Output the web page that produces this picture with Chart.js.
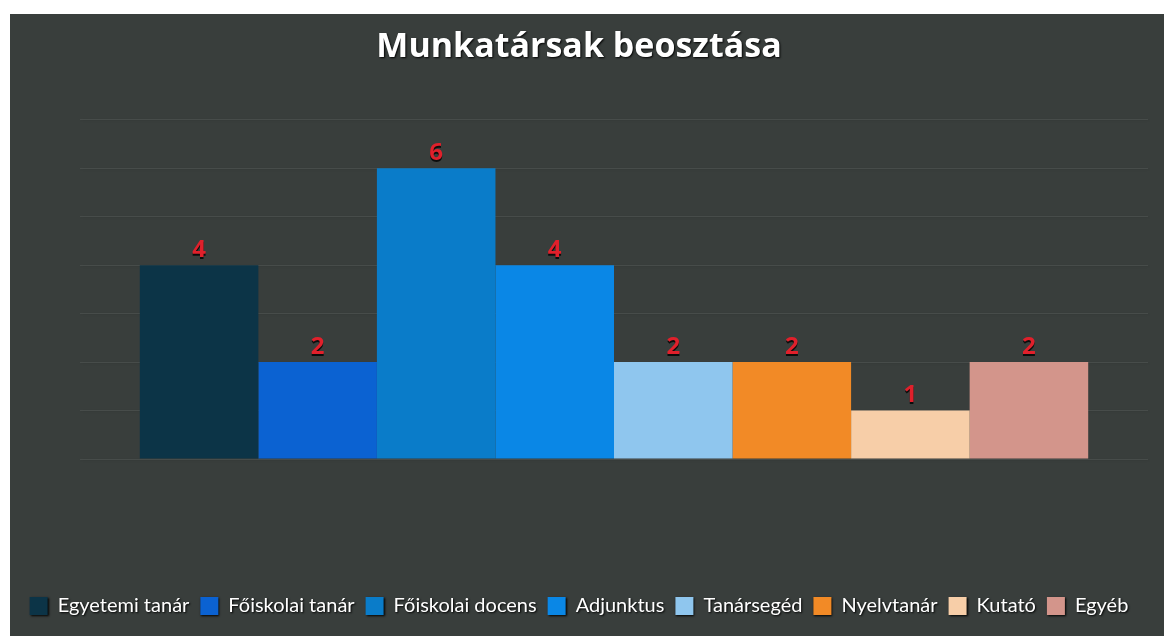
<!DOCTYPE html>
<html>
<head>
<meta charset="utf-8">
<script src="https://cdn.jsdelivr.net/npm/chart.js@4"></script>
<style>
  body { margin: 0; background: #fff; }
  #wrap { position: absolute; left: 10px; top: 14px; width: 1154px; height: 622px; }
</style>
</head>
<body>
<div id="wrap"><canvas id="myChart"></canvas></div>
<script>
const categories = ["Munkatársak"];
const seriesNames = ["Egyetemi tanár", "Főiskolai tanár", "Főiskolai docens", "Adjunktus",
  "Tanársegéd", "Nyelvtanár", "Kutató", "Egyéb"];
const seriesValues = [4, 2, 6, 4, 2, 2, 1, 2];
const seriesColors = ["#0c3447", "#0b62d2", "#0a7cc9", "#0a87e6",
  "#8fc6ee", "#f28a26", "#f7cea8", "#d3958b"];
const yTicks = [0, 1, 2, 3, 4, 5, 6, 7];

const bgPlugin = {
  id: "bg",
  beforeDraw(chart) {
    const c = chart.ctx;
    c.save();
    c.fillStyle = "#393e3c";
    c.fillRect(0, 0, chart.width, chart.height);
    c.restore();
  }
};

// fekete körvonal a fehér feliratokhoz
const shadowPlugin = {
  id: "shadow",
  beforeDraw(chart) {
    const c = chart.ctx;
    c.save();
    c.shadowColor = "rgba(0,0,0,0.95)";
    c.shadowBlur = 2;
    c.shadowOffsetX = 1;
    c.shadowOffsetY = 1;
  },
  beforeDatasetsDraw(chart) {
    chart.ctx.restore();
  }
};

const labelPlugin = {
  id: "valueLabels",
  afterDatasetsDraw(chart) {
    const c = chart.ctx;
    c.save();
    c.font = "bold 24px 'Open Sans'";
    c.fillStyle = "#e0202b";
    c.textAlign = "center";
    c.textBaseline = "bottom";
    c.shadowColor = "rgba(0,0,0,0.8)";
    c.shadowOffsetY = 2;
    chart.data.datasets.forEach((ds, i) => {
      chart.getDatasetMeta(i).data.forEach((bar, j) => {
        c.fillText(ds.data[j], bar.x, bar.y - 3);
      });
    });
    c.restore();
  }
};

const ctx = document.getElementById("myChart");
new Chart(ctx, {
  type: "bar",
  data: {
    labels: categories,
    datasets: seriesNames.map((name, i) => ({
      label: name,
      data: [seriesValues[i]],
      backgroundColor: seriesColors[i],
      borderWidth: 0,
      categoryPercentage: 0.888,
      barPercentage: 1.0
    }))
  },
  options: {
    responsive: true,
    maintainAspectRatio: false,
    animation: false,
    layout: { padding: { top: 8, left: 0, right: 16, bottom: 10 } },
    plugins: {
      title: {
        display: true,
        text: "Munkatársak beosztása",
        color: "#ffffff",
        font: { family: "'Open Sans'", size: 34, weight: "bold" },
        padding: { top: 5, bottom: 52 }
      },
      legend: {
        position: "bottom",
        labels: {
          color: "#ffffff",
          boxWidth: 18,
          boxHeight: 18,
          padding: 11,
          font: { family: "Lato", size: 20 }
        }
      },
      tooltip: { enabled: false }
    },
    scales: {
      x: {
        ticks: { display: false },
        grid: { display: false },
        border: { display: false },
        afterFit(scale) { scale.height = 126; }
      },
      y: {
        min: 0,
        max: yTicks[yTicks.length - 1],
        afterBuildTicks(scale) { scale.ticks = yTicks.map(v => ({ value: v })); },
        ticks: { display: false },
        grid: { color: "rgba(255,255,255,0.08)", drawTicks: false },
        border: { display: false },
        afterFit(scale) { scale.width = 70; }
      }
    }
  },
  plugins: [bgPlugin, shadowPlugin, labelPlugin]
});
</script>
</body>
</html>
